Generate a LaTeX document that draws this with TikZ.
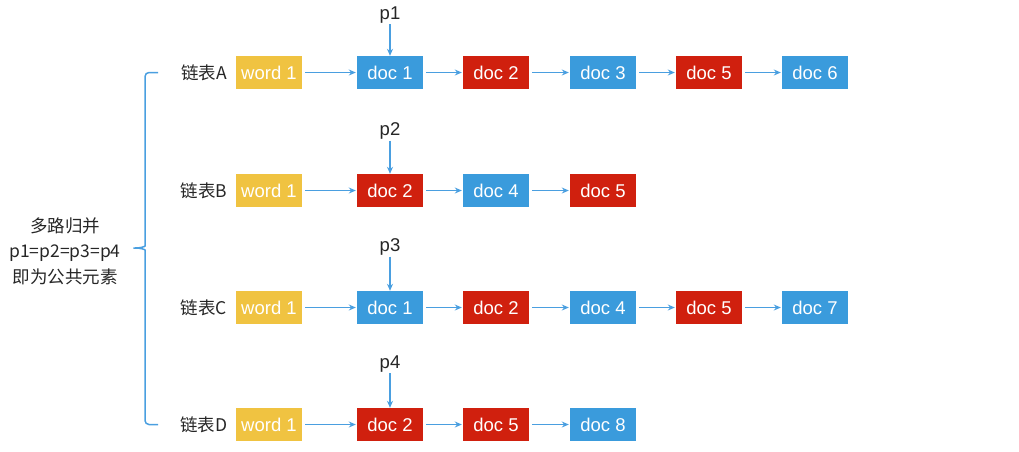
\documentclass[tikz,border=0pt]{standalone}
\usepackage{fontspec}
\setmainfont{Liberation Sans}
\newfontfamily\cjk{Noto Sans CJK SC}
\usetikzlibrary{arrows.meta}
\definecolor{wordyellow}{HTML}{F0C341}
\definecolor{docblue}{HTML}{3A9BDC}
\definecolor{docred}{HTML}{D0200E}
\definecolor{linkblue}{HTML}{4A9FE0}
\begin{document}
\begin{tikzpicture}[x=1pt,y=-1pt,>={Stealth[length=7pt,width=6pt]},
    box/.style={inner sep=0pt,minimum width=66pt,minimum height=33pt,
      text=white,font=\fontsize{18.5}{22}\selectfont},
    wordbox/.style={box,fill=wordyellow},
    bluedoc/.style={box,fill=docblue},
    reddoc/.style={box,fill=docred},
    listname/.style={font=\cjk\fontsize{17.5}{21}\selectfont,text=black!85},
    pointer/.style={font=\fontsize{18.5}{22}\selectfont,text=black!85,inner sep=1pt},
    link/.style={->,draw=linkblue,line width=1.5pt,shorten <=3pt,shorten >=1pt}]
    \useasboundingbox (0,0) rectangle (1019,451);
    % left note and brace
    \node[font=\cjk\fontsize{17.5}{25.5}\selectfont,align=center,text=black!85]
      (note) at (65,251) {多路归并\\p1=p2=p3=p4\\即为公共元素};
    % list A
    \node[listname] (labA) at (204,72.5) {链表A};
    \node[wordbox] (wA) at (269,72.5) {word 1};
    \node[bluedoc] (a1) at (390,72.5) {doc 1};
    \node[reddoc] (a2) at (496,72.5) {doc 2};
    \node[bluedoc] (a3) at (603,72.5) {doc 3};
    \node[reddoc] (a4) at (709,72.5) {doc 5};
    \node[bluedoc] (a5) at (815,72.5) {doc 6};
    \node[pointer] (p1) at (390,15) {p1};
    \draw[link] (wA) -- (a1);
    \draw[link] (a1) -- (a2);
    \draw[link] (a2) -- (a3);
    \draw[link] (a3) -- (a4);
    \draw[link] (a4) -- (a5);
    \draw[link,shorten <=0pt,shorten >=0pt] (p1) -- (a1);
    % list B
    \node[listname] (labB) at (204,190.5) {链表B};
    \node[wordbox] (wB) at (269,190.5) {word 1};
    \node[reddoc] (b1) at (390,190.5) {doc 2};
    \node[bluedoc] (b2) at (496,190.5) {doc 4};
    \node[reddoc] (b3) at (603,190.5) {doc 5};
    \node[pointer] (p2) at (390,131) {p2};
    \draw[link] (wB) -- (b1);
    \draw[link] (b1) -- (b2);
    \draw[link] (b2) -- (b3);
    \draw[link,shorten <=0pt,shorten >=0pt] (p2) -- (b1);
    % list C
    \node[listname] (labC) at (204,307.5) {链表C};
    \node[wordbox] (wC) at (269,307.5) {word 1};
    \node[bluedoc] (c1) at (390,307.5) {doc 1};
    \node[reddoc] (c2) at (496,307.5) {doc 2};
    \node[bluedoc] (c3) at (603,307.5) {doc 4};
    \node[reddoc] (c4) at (709,307.5) {doc 5};
    \node[bluedoc] (c5) at (815,307.5) {doc 7};
    \node[pointer] (p3) at (390,247) {p3};
    \draw[link] (wC) -- (c1);
    \draw[link] (c1) -- (c2);
    \draw[link] (c2) -- (c3);
    \draw[link] (c3) -- (c4);
    \draw[link] (c4) -- (c5);
    \draw[link,shorten <=0pt,shorten >=0pt] (p3) -- (c1);
    % list D
    \node[listname] (labD) at (204,424.5) {链表D};
    \node[wordbox] (wD) at (269,424.5) {word 1};
    \node[reddoc] (d1) at (390,424.5) {doc 2};
    \node[reddoc] (d2) at (496,424.5) {doc 5};
    \node[bluedoc] (d3) at (603,424.5) {doc 8};
    \node[pointer] (p4) at (390,364) {p4};
    \draw[link] (wD) -- (d1);
    \draw[link] (d1) -- (d2);
    \draw[link] (d2) -- (d3);
    \draw[link,shorten <=0pt,shorten >=0pt] (p4) -- (d1);
    % brace
    \coordinate (braceA) at (158,72.5);
    \coordinate (braceD) at (158,424.5);
    \coordinate (braceTip) at (131,248);
    \draw[linkblue,line width=1.5pt,rounded corners=4pt]
      (braceA) -- (145,72.5) -- (145,242)
      .. controls (145,246.5) and (141,248) .. (braceTip)
      .. controls (141,248) and (145,249.5) .. (145,254)
      -- (145,424.5) -- (braceD);
  \end{tikzpicture}
\end{document}
